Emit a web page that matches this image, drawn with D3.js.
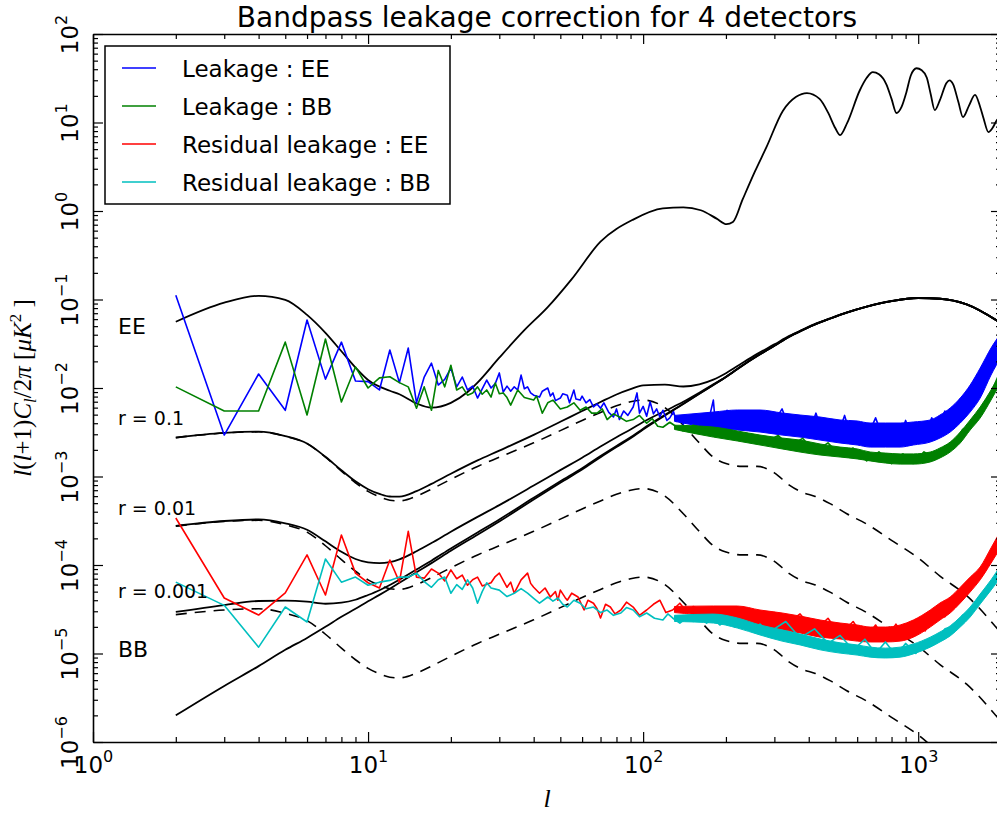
<!DOCTYPE html>
<html>
<head>
<meta charset="utf-8">
<script src="https://cdn.jsdelivr.net/npm/d3@7/dist/d3.min.js"></script>
<style>
html,body{margin:0;padding:0;background:#fff;}
svg{display:block;}
</style>
</head>
<body>
<svg id="chart" width="997" height="813"></svg>
<script>
// ---------------- DATA ----------------
const titleText = "Bandpass leakage correction for 4 detectors";
const xMajor = [1, 10, 100, 1000];
const xTickExp = ["0", "1", "2", "3"];
const yMajor = [1e-6, 1e-5, 1e-4, 1e-3, 1e-2, 1e-1, 1e0, 1e1, 1e2];
const yTickExp = ["\u22126", "\u22125", "\u22124", "\u22123", "\u22122", "\u22121", "0", "1", "2"];
const legendLabels = ["Leakage : EE", "Leakage : BB", "Residual leakage : EE", "Residual leakage : BB"];
const seriesColors = ["#0000ff", "#008000", "#ff0000", "#00bfbf"];

// theory EE spectrum
const ellEE = [2,3,4,5,6,7,8,9,10,12,13,15,17,20,23,25,30,37,45,55,70,92,118,140,162,185,201,212,230,255,281,322,360,394,438,470,500,520,552,613,650,684,720,766,800,834,870,906,940,986,1030,1075,1110,1149,1200,1267,1300,1340,1400,1455,1530,1609,1680,1730,1800,1860,1935,2000];
const eeTheory = [0.056,0.092,0.11,0.099,0.067,0.042,0.026,0.017,0.0123,0.0093,0.0085,0.0067,0.006,0.0068,0.009,0.0115,0.022,0.045,0.082,0.17,0.45,0.8,1.07,1.1,1.02,0.82,0.71,0.75,1.35,2.8,5.3,13.5,19.5,21.5,18.5,13,8.6,7.2,9.9,23,32,37,35,27,18.5,12.8,15,22,34,41,39,32,21,13.8,18,28,30,27,17,11.5,15.5,20.5,15,11,7.8,8.6,10.7,11.5];

// BB spectra on a common multipole grid
const ellBB = [2,3,4,5,6,7,8,9,10,11,12,13,15,17,20,25,30,40,50,60,70,80,90,100,120,140,160,180,200,230,260,300,340,380,420,480,550,650,800,1000,1200,1500,2000];
const lensBB = [2.0e-6,4.3e-6,7.2e-6,1.1e-5,1.5e-5,2.0e-5,2.6e-5,3.2e-5,3.9e-5,4.6e-5,5.4e-5,6.3e-5,8.3e-5,1.05e-4,1.45e-4,2.2e-4,3.1e-4,5.5e-4,8.5e-4,1.2e-3,1.65e-3,2.15e-3,2.7e-3,3.4e-3,4.9e-3,6.6e-3,8.6e-3,1.08e-2,1.33e-2,1.8e-2,2.3e-2,3.0e-2,3.8e-2,4.5e-2,5.2e-2,6.1e-2,7.1e-2,8.3e-2,9.6e-2,0.104,0.102,0.088,0.054];
const tensorR01 = [2.75e-3,3.1e-3,3.2e-3,2.85e-3,2.35e-3,1.65e-3,1.15e-3,8.5e-4,6.8e-4,5.9e-4,5.4e-4,5.3e-4,6.0e-4,7.2e-4,9.3e-4,1.3e-3,1.65e-3,2.4e-3,3.3e-3,4.3e-3,5.3e-3,6.3e-3,7.0e-3,7.3e-3,6.0e-3,3.8e-3,2.4e-3,1.65e-3,1.4e-3,1.3e-3,1.3e-3,1.1e-3,8.0e-4,6.6e-4,6.0e-4,4.9e-4,3.8e-4,2.9e-4,1.9e-4,1.2e-4,7.5e-5,4.5e-5,1.7e-5];
const tensorR001 = [2.75e-4,3.1e-4,3.2e-4,2.85e-4,2.35e-4,1.65e-4,1.15e-4,8.5e-5,6.8e-5,5.9e-5,5.4e-5,5.3e-5,6.0e-5,7.2e-5,9.3e-5,1.3e-4,1.65e-4,2.4e-4,3.3e-4,4.3e-4,5.3e-4,6.3e-4,7.0e-4,7.3e-4,6.0e-4,3.8e-4,2.4e-4,1.65e-4,1.4e-4,1.3e-4,1.3e-4,1.1e-4,8.0e-5,6.6e-5,6.0e-5,4.9e-5,3.8e-5,2.9e-5,1.9e-5,1.2e-5,7.5e-6,4.5e-6,1.7e-6];
const tensorR0001 = [2.75e-5,3.1e-5,3.2e-5,2.85e-5,2.35e-5,1.65e-5,1.15e-5,8.5e-6,6.8e-6,5.9e-6,5.4e-6,5.3e-6,6.0e-6,7.2e-6,9.3e-6,1.3e-5,1.65e-5,2.4e-5,3.3e-5,4.3e-5,5.3e-5,6.3e-5,7.0e-5,7.3e-5,6.0e-5,3.8e-5,2.4e-5,1.65e-5,1.4e-5,1.3e-5,1.3e-5,1.1e-5,8.0e-6,6.6e-6,6.0e-6,4.9e-6,3.8e-6,2.9e-6,1.9e-6,1.2e-6,7.5e-7,4.5e-7,1.7e-7];
const totalR01 = [2.752e-3,3.104e-3,3.207e-3,2.861e-3,2.365e-3,1.67e-3,1.176e-3,8.82e-4,7.19e-4,6.36e-4,5.94e-4,5.93e-4,6.83e-4,8.25e-4,1.075e-3,1.52e-3,1.96e-3,2.95e-3,4.15e-3,5.5e-3,6.95e-3,8.45e-3,9.7e-3,1.07e-2,1.09e-2,1.04e-2,1.1e-2,1.245e-2,1.47e-2,1.93e-2,2.43e-2,3.11e-2,3.88e-2,4.57e-2,5.26e-2,6.15e-2,7.14e-2,8.33e-2,9.62e-2,0.1041,0.1021,0.088,0.054];
const totalR001 = [2.77e-4,3.14e-4,3.27e-4,2.96e-4,2.5e-4,1.85e-4,1.41e-4,1.17e-4,1.07e-4,1.05e-4,1.08e-4,1.16e-4,1.43e-4,1.77e-4,2.38e-4,3.5e-4,4.75e-4,7.9e-4,1.18e-3,1.63e-3,2.18e-3,2.78e-3,3.4e-3,4.13e-3,5.5e-3,6.98e-3,8.84e-3,1.1e-2,1.344e-2,1.81e-2,2.31e-2,3.01e-2,3.81e-2,4.51e-2,5.21e-2,6.1e-2,7.1e-2,8.3e-2,9.6e-2,0.104,0.102,0.088,0.054];
const totalR0001 = [2.95e-5,3.53e-5,3.92e-5,3.95e-5,3.85e-5,3.65e-5,3.75e-5,4.05e-5,4.58e-5,5.19e-5,5.94e-5,6.83e-5,8.9e-5,1.12e-4,1.54e-4,2.33e-4,3.27e-4,5.74e-4,8.83e-4,1.243e-3,1.703e-3,2.213e-3,2.77e-3,3.473e-3,4.96e-3,6.638e-3,8.624e-3,1.0817e-2,1.3314e-2,1.8013e-2,2.3013e-2,3.0011e-2,3.8008e-2,4.5007e-2,5.2006e-2,6.1005e-2,7.1004e-2,8.3003e-2,9.6002e-2,0.104,0.102,0.088,0.054];

// noisy leakage spectra, [ell, value]
const leakEE = [[2,0.112],[3,0.00294],[4,0.0144],[5,0.0056],[6,0.0586],[7,0.0126],[8,0.033],[9,0.012],[10,0.0118],[11,0.0095],[12,0.0269],[13,0.0115],[14,0.0283],[15,0.0068],[16,0.0133],[17,0.0191],[18,0.0108],[19,0.0125],[20,0.0168],[21,0.0103],[22,0.0133],[23,0.0095],[24,0.0105],[25,0.0077],[26,0.0098],[27,0.0123],[28,0.01],[29,0.0112],[30,0.0148],[31,0.009],[32,0.0105],[33,0.0092],[34,0.0103],[35,0.0095],[36,0.014],[37,0.0098],[38,0.0103],[39,0.0088],[40,0.0083],[42,0.0079],[43,0.0092],[45,0.01],[46,0.0081],[47,0.0088],[48,0.0072],[50,0.0077],[51,0.0086],[53,0.0083],[54,0.0068],[56,0.0095],[57,0.0075],[59,0.0073],[60,0.0081],[62,0.0068],[64,0.0074],[66,0.0061],[68,0.0066],[70,0.0059],[72,0.0068],[75,0.0053],[78,0.0047],[80,0.0058],[82,0.0044],[85,0.0055],[88,0.0049],[92,0.0061],[95,0.0088],[97,0.0052],[100,0.0062],[103,0.0048],[106,0.007],[109,0.0051],[112,0.0058],[115,0.0047],[118,0.0056],[122,0.0043],[125,0.0046],[129,0.0054],[132,0.0042],[136,0.0047],[140,0.0039],[144,0.0049],[148,0.0041],[152,0.0041],[156,0.0046],[161,0.0036],[166,0.0045],[171,0.0038],[175,0.005],[180,0.0073],[183,0.004],[186,0.0046],[190,0.0037],[195,0.0049],[202,0.0056],[208,0.0039],[215,0.0047],[222,0.0036],[230,0.0045],[239,0.0044],[248,0.0035],[258,0.0046],[270,0.0036],[282,0.0047],[300,0.0042],[320,0.0058],[340,0.0035],[372,0.0046],[400,0.0031],[425,0.0052],[450,0.003],[480,0.0044],[510,0.0029],[540,0.0049],[570,0.0028],[610,0.0041],[650,0.0027],[700,0.0046],[750,0.0026],[800,0.0039],[850,0.0026],[900,0.0043],[950,0.0028],[1000,0.004],[1060,0.003],[1120,0.0046],[1180,0.0033],[1250,0.0055],[1330,0.0043],[1420,0.0075],[1500,0.0068],[1600,0.0115],[1700,0.012],[1800,0.019],[1900,0.028],[2000,0.034]];
const leakBB = [[2,0.0103],[3,0.0055],[4,0.0055],[5,0.033],[6,0.00495],[7,0.0358],[8,0.00695],[9,0.0173],[10,0.01],[11,0.013],[12,0.0134],[13,0.0115],[14,0.0103],[15,0.0059],[16,0.0103],[17,0.0056],[18,0.0158],[19,0.0103],[20,0.0181],[21,0.0095],[22,0.0103],[23,0.0083],[24,0.0088],[25,0.0103],[26,0.0085],[27,0.0095],[28,0.0079],[29,0.0114],[30,0.0086],[31,0.0088],[32,0.0078],[33,0.0064],[35,0.0095],[37,0.0078],[40,0.0073],[41,0.0081],[43,0.0052],[45,0.0068],[47,0.0073],[50,0.0058],[53,0.0061],[56,0.0068],[59,0.0056],[62,0.0061],[65,0.0052],[68,0.0052],[71,0.0058],[74,0.0044],[78,0.0051],[82,0.0047],[87,0.0042],[92,0.0044],[97,0.0049],[103,0.004],[108,0.0045],[113,0.0037],[118,0.0036],[125,0.0041],[133,0.0036],[139,0.0033],[145,0.0034],[152,0.0038],[161,0.0036],[168,0.0031],[175,0.0035],[183,0.003],[190,0.0034],[200,0.0029],[210,0.0032],[222,0.0027],[235,0.0031],[248,0.0026],[262,0.0029],[282,0.0025],[310,0.0029],[340,0.0022],[380,0.0027],[420,0.0019],[470,0.0024],[520,0.0017],[580,0.0021],[650,0.0015],[720,0.0019],[800,0.0014],[880,0.0018],[960,0.0014],[1050,0.0019],[1150,0.0016],[1250,0.0022],[1350,0.0023],[1450,0.0034],[1560,0.0038],[1680,0.0058],[1800,0.0075],[1950,0.0135]];
const residEE = [[2,3.4e-4],[3,4.24e-5],[4,2.72e-5],[5,4.83e-5],[6,1.3e-4],[7,4.58e-5],[8,2.18e-4],[9,8.1e-5],[10,6.3e-5],[11,5.5e-5],[12,1.14e-4],[13,6.4e-5],[14,2.4e-4],[15,7.3e-5],[16,7.1e-5],[17,9.0e-5],[18,8.1e-5],[19,6.6e-5],[20,8.8e-5],[21,7.0e-5],[22,7.7e-5],[23,5.9e-5],[24,6.8e-5],[25,7.3e-5],[26,5.8e-5],[28,6.3e-5],[29,7.4e-5],[30,8.1e-5],[32,5.6e-5],[33,6.4e-5],[34,4.8e-5],[36,6.8e-5],[38,8.1e-5],[39,6.2e-5],[40,5.6e-5],[42,4.8e-5],[44,5.5e-5],[46,4.35e-5],[48,5.0e-5],[49,4.0e-5],[50,5.2e-5],[52,4.3e-5],[53,4.0e-5],[55,4.8e-5],[58,4.35e-5],[61,3.1e-5],[63,4.0e-5],[66,3.7e-5],[68,3.2e-5],[70,2.52e-5],[73,3.6e-5],[76,3.35e-5],[79,2.8e-5],[83,3.1e-5],[87,3.8e-5],[92,3.35e-5],[97,2.7e-5],[103,3.1e-5],[109,3.6e-5],[115,4.0e-5],[121,2.9e-5],[128,3.1e-5],[136,3.7e-5],[145,2.87e-5],[152,3.4e-5],[161,3.1e-5],[170,2.7e-5],[180,3.3e-5],[190,2.8e-5],[202,3.2e-5],[215,2.6e-5],[230,3.0e-5],[248,2.5e-5],[266,2.9e-5],[282,2.4e-5],[300,2.9e-5],[330,2.1e-5],[372,2.8e-5],[420,1.8e-5],[470,2.5e-5],[520,1.6e-5],[580,2.3e-5],[640,1.45e-5],[700,2.1e-5],[760,1.4e-5],[830,2.15e-5],[900,1.45e-5],[980,2.3e-5],[1060,1.8e-5],[1150,2.9e-5],[1250,2.6e-5],[1350,4.0e-5],[1450,4.3e-5],[1550,6.0e-5],[1680,7.5e-5],[1800,1.2e-4],[1950,1.9e-4]];
const residBB = [[2,6.4e-5],[3,3.5e-5],[4,1.18e-5],[5,3.35e-5],[6,2.27e-5],[7,1.17e-4],[8,6.4e-5],[9,7.3e-5],[10,5.9e-5],[11,6.4e-5],[12,6.7e-5],[13,7.3e-5],[14,7.3e-5],[15,8.1e-5],[16,6.5e-5],[17,5.6e-5],[18,6.8e-5],[19,7.3e-5],[20,4.8e-5],[21,6.0e-5],[22,5.3e-5],[23,6.8e-5],[24,5.5e-5],[25,3.7e-5],[26,5.0e-5],[27,6.3e-5],[28,5.5e-5],[30,5.2e-5],[32,4.4e-5],[34,4.8e-5],[36,5.4e-5],[38,4.8e-5],[40,4.2e-5],[42,3.7e-5],[45,4.35e-5],[47,3.9e-5],[49,4.24e-5],[51,3.6e-5],[53,3.35e-5],[56,4.0e-5],[59,3.7e-5],[62,3.2e-5],[66,3.35e-5],[70,2.9e-5],[74,3.1e-5],[78,2.7e-5],[83,2.87e-5],[87,3.3e-5],[92,3.1e-5],[97,2.6e-5],[103,2.87e-5],[110,2.5e-5],[118,2.39e-5],[123,2.8e-5],[128,2.52e-5],[136,2.2e-5],[145,2.58e-5],[152,2.3e-5],[161,2.58e-5],[170,2.2e-5],[180,2.5e-5],[190,2.1e-5],[202,2.4e-5],[215,2.0e-5],[230,2.3e-5],[248,1.9e-5],[266,2.15e-5],[282,1.8e-5],[300,1.9e-5],[330,2.3e-5],[372,1.5e-5],[420,1.9e-5],[470,1.3e-5],[520,1.6e-5],[580,1.1e-5],[640,1.45e-5],[700,1.0e-5],[760,1.35e-5],[830,9.5e-6],[900,1.3e-5],[980,1.0e-5],[1060,1.4e-5],[1150,1.3e-5],[1250,1.9e-5],[1350,2.0e-5],[1450,2.7e-5],[1550,3.0e-5],[1680,4.5e-5],[1800,5.5e-5],[1950,8.5e-5]];

// high-multipole noise bands: upper / lower envelopes
const bandEll = [130,180,220,266,320,372,440,520,600,669,760,860,960,1106,1200,1307,1422,1545,1680,1840,2000];
const leakEEHi = [0.0049,0.00535,0.00564,0.00564,0.00522,0.00495,0.0047,0.00435,0.00424,0.00402,0.00402,0.00402,0.00413,0.00435,0.00495,0.00594,0.0077,0.0108,0.0168,0.0283,0.0418];
const leakEELo = [0.0042,0.00353,0.00335,0.00318,0.00294,0.00279,0.00258,0.00239,0.00227,0.00215,0.00215,0.00215,0.00227,0.00245,0.00272,0.00318,0.00402,0.00535,0.0077,0.01403,0.0224];
const leakBBHi = [0.0038,0.00362,0.00327,0.00294,0.00272,0.00258,0.00233,0.00215,0.00205,0.00189,0.00184,0.0018,0.0018,0.00189,0.0021,0.00245,0.00318,0.00435,0.0061,0.00949,0.0152];
const leakBBLo = [0.0034,0.00279,0.00252,0.00227,0.00205,0.00189,0.00175,0.00166,0.00158,0.0015,0.00142,0.00138,0.00138,0.00146,0.00162,0.00189,0.00239,0.00335,0.00458,0.00732,0.0117];
const residEEHi = [3.4e-5,3.44e-5,3.44e-5,3.1e-5,2.87e-5,2.65e-5,2.39e-5,2.21e-5,2.1e-5,1.99e-5,1.99e-5,2.1e-5,2.39e-5,3.1e-5,3.72e-5,4.35e-5,5.6e-5,7.3e-5,9.5e-5,1.56e-4,2.48e-4];
const residEELo = [2.9e-5,2.58e-5,2.27e-5,1.99e-5,1.85e-5,1.71e-5,1.53e-5,1.46e-5,1.38e-5,1.35e-5,1.35e-5,1.38e-5,1.53e-5,1.99e-5,2.39e-5,2.87e-5,3.72e-5,4.95e-5,6.8e-5,1.05e-4,1.6e-4];
const residBBHi = [2.7e-5,2.79e-5,2.52e-5,2.1e-5,1.85e-5,1.66e-5,1.46e-5,1.32e-5,1.25e-5,1.18e-5,1.15e-5,1.18e-5,1.28e-5,1.53e-5,1.75e-5,2.05e-5,2.58e-5,3.35e-5,4.7e-5,6.8e-5,1.0e-4];
const residBBLo = [2.3e-5,2.21e-5,1.94e-5,1.62e-5,1.38e-5,1.25e-5,1.1e-5,1.01e-5,9.6e-6,9.1e-6,8.9e-6,9.1e-6,9.9e-6,1.18e-5,1.35e-5,1.58e-5,1.99e-5,2.58e-5,3.62e-5,5.2e-5,7.3e-5];

// curve annotations
const annotLabels = ["EE", "r = 0.1", "r = 0.01", "r = 0.001", "BB"];

// ---------------- DRAWING ----------------
const W = 997, H = 813;
const PL = 93, PT = 34, PR = 1001, PB = 742;
const x = d3.scaleLog().domain([1, 2000]).range([PL, PR]);
const y = d3.scaleLog().domain([1e-6, 1e2]).range([PB, PT]);

const svg = d3.select("#chart");
svg.append("rect").attr("width", W).attr("height", H).attr("fill", "#fff");
svg.append("defs").append("clipPath").attr("id", "clip")
  .append("rect").attr("x", PL).attr("y", PT).attr("width", PR - PL).attr("height", PB - PT);
const plot = svg.append("g").attr("clip-path", "url(#clip)");

const zip = (ls, vs) => ls.map((l, i) => [l, vs[i]]);
const smooth = d3.line().x(d => x(d[0])).y(d => y(d[1])).curve(d3.curveMonotoneX);
const jag = d3.line().x(d => x(d[0])).y(d => y(d[1]));
const band = d3.area().x(d => x(d[0])).y0(d => y(d[2])).y1(d => y(d[1])).curve(d3.curveMonotoneX);

// black theory curves
const solidCurves = [zip(ellEE, eeTheory), zip(ellBB, lensBB), zip(ellBB, totalR01), zip(ellBB, totalR001), zip(ellBB, totalR0001)];
const dashedCurves = [zip(ellBB, tensorR01), zip(ellBB, tensorR001), zip(ellBB, tensorR0001)];
dashedCurves.forEach(c => plot.append("path").attr("d", smooth(c)).attr("fill", "none")
  .attr("stroke", "#000").attr("stroke-width", 1.6).attr("stroke-dasharray", "11,8"));
solidCurves.forEach(c => plot.append("path").attr("d", smooth(c)).attr("fill", "none")
  .attr("stroke", "#000").attr("stroke-width", 1.8).attr("stroke-linejoin", "round"));

// noisy series
const noisy = [
  {pts: leakEE, hi: leakEEHi, lo: leakEELo},
  {pts: leakBB, hi: leakBBHi, lo: leakBBLo},
  {pts: residEE, hi: residEEHi, lo: residEELo},
  {pts: residBB, hi: residBBHi, lo: residBBLo}
];
noisy.forEach((s, i) => {
  const col = seriesColors[i];
  const bd = bandEll.map((l, k) => [l, s.hi[k], s.lo[k]]);
  plot.append("path").attr("d", band(bd)).attr("fill", col)
    .attr("stroke", col).attr("stroke-width", 1);
  plot.append("path").attr("d", jag(s.pts)).attr("fill", "none")
    .attr("stroke", col).attr("stroke-width", 1.6).attr("stroke-linejoin", "round");
});

// ---------------- AXES ----------------
const isMajor = (v, majors) => majors.some(m => Math.abs(v / m - 1) < 1e-9);
const minorX = x.ticks().filter(v => !isMajor(v, xMajor));
const minorY = y.ticks().filter(v => !isMajor(v, yMajor));

function styleAx(g, showDomain) {
  g.select(".domain").attr("stroke", showDomain ? "#000" : "none").attr("stroke-width", 1.6);
  g.selectAll(".tick line").attr("stroke", "#000").attr("stroke-width", 1.2);
}
function supLabel(sel, exps, majors) {
  sel.selectAll(".tick text").each(function(d) {
    const idx = majors.findIndex(m => Math.abs(d / m - 1) < 1e-9);
    const t = d3.select(this);
    t.text(null);
    t.append("tspan").text("10");
    t.append("tspan").attr("dy", -11).attr("font-size", 16).text(exps[idx]);
  });
}

// bottom
const gB = svg.append("g").attr("transform", `translate(0,${PB})`)
  .call(d3.axisBottom(x).tickValues(xMajor).tickSizeInner(-10).tickSizeOuter(0).tickPadding(15));
styleAx(gB, true);
gB.selectAll(".tick text").attr("font-family", "DejaVu Sans").attr("font-size", 23).attr("fill", "#000");
supLabel(gB, xTickExp, xMajor);
const gBm = svg.append("g").attr("transform", `translate(0,${PB})`)
  .call(d3.axisBottom(x).tickValues(minorX).tickSizeInner(-5).tickSizeOuter(0).tickFormat(""));
styleAx(gBm, false);

// top
const gT = svg.append("g").attr("transform", `translate(0,${PT})`)
  .call(d3.axisTop(x).tickValues(xMajor).tickSizeInner(-10).tickSizeOuter(0).tickFormat(""));
styleAx(gT, true);
const gTm = svg.append("g").attr("transform", `translate(0,${PT})`)
  .call(d3.axisTop(x).tickValues(minorX).tickSizeInner(-5).tickSizeOuter(0).tickFormat(""));
styleAx(gTm, false);

// left
const gL = svg.append("g").attr("transform", `translate(${PL},0)`)
  .call(d3.axisLeft(y).tickValues(yMajor).tickSizeInner(-10).tickSizeOuter(0).tickPadding(15));
styleAx(gL, true);
gL.selectAll(".tick text").attr("font-family", "DejaVu Sans").attr("font-size", 23).attr("fill", "#000")
  .attr("x", 0).attr("dy", 0).attr("text-anchor", "middle").attr("transform", "translate(-15,0) rotate(-90)");
supLabel(gL, yTickExp, yMajor);
const gLm = svg.append("g").attr("transform", `translate(${PL},0)`)
  .call(d3.axisLeft(y).tickValues(minorY).tickSizeInner(-5).tickSizeOuter(0).tickFormat(""));
styleAx(gLm, false);

// right
const gR = svg.append("g").attr("transform", `translate(${PR},0)`)
  .call(d3.axisRight(y).tickValues(yMajor).tickSizeInner(-10).tickSizeOuter(0).tickFormat(""));
styleAx(gR, true);
const gRm = svg.append("g").attr("transform", `translate(${PR},0)`)
  .call(d3.axisRight(y).tickValues(minorY).tickSizeInner(-5).tickSizeOuter(0).tickFormat(""));
styleAx(gRm, false);

// ---------------- TEXT ----------------
svg.append("text").attr("x", (PL + PR) / 2).attr("y", 27).attr("text-anchor", "middle")
  .attr("font-family", "DejaVu Sans").attr("font-size", 28).attr("fill", "#000").text(titleText);

// y label
const yl = svg.append("text").attr("transform", `translate(31,${(PT + PB) / 2}) rotate(-90)`)
  .attr("text-anchor", "middle").attr("font-family", "Liberation Serif").attr("font-size", 25).attr("fill", "#000");
yl.append("tspan").attr("font-style", "italic").text("l");
yl.append("tspan").text("(");
yl.append("tspan").attr("font-style", "italic").text("l");
yl.append("tspan").text("+1)");
yl.append("tspan").attr("font-style", "italic").text("C");
yl.append("tspan").attr("font-style", "italic").attr("font-size", 17).attr("dy", 5).text("l");
yl.append("tspan").attr("dy", -5).text("/2");
yl.append("tspan").attr("font-style", "italic").text("\u03C0");
yl.append("tspan").text(" [");
yl.append("tspan").attr("font-style", "italic").text("\u03BCK");
yl.append("tspan").attr("font-size", 17).attr("dy", -10).text("2");
yl.append("tspan").attr("dy", 10).text(" ]");

// x label
svg.append("text").attr("x", (PL + PR) / 2).attr("y", 807).attr("text-anchor", "middle")
  .attr("font-family", "Liberation Serif").attr("font-style", "italic").attr("font-size", 26).attr("fill", "#000").text("l");

// annotations
const annotPos = [[118, 334, 22], [118, 425, 19], [118, 515, 19], [118, 598, 19], [118, 657, 22]];
annotLabels.forEach((t, i) => {
  svg.append("text").attr("x", annotPos[i][0]).attr("y", annotPos[i][1])
    .attr("font-family", "DejaVu Sans").attr("font-size", annotPos[i][2]).attr("fill", "#000").text(t);
});

// legend
const lg = svg.append("g");
lg.append("rect").attr("x", 105).attr("y", 46).attr("width", 345).attr("height", 158)
  .attr("fill", "#fff").attr("stroke", "#000").attr("stroke-width", 1.5);
legendLabels.forEach((t, i) => {
  const yy = 68 + i * 38;
  lg.append("line").attr("x1", 122).attr("x2", 156).attr("y1", yy).attr("y2", yy)
    .attr("stroke", seriesColors[i]).attr("stroke-width", 1.5);
  lg.append("text").attr("x", 182).attr("y", yy + 9).attr("font-family", "DejaVu Sans")
    .attr("font-size", 23).attr("fill", "#000").text(t);
});
</script>
</body>
</html>
